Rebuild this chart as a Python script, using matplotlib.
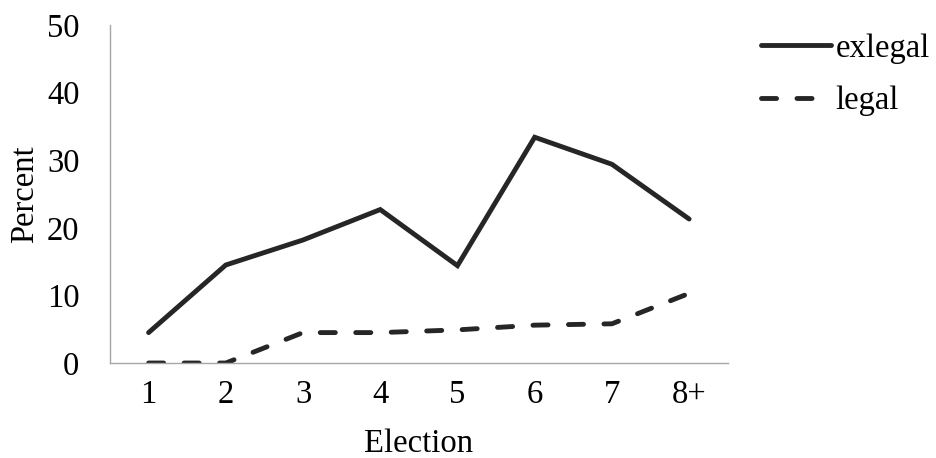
import matplotlib
matplotlib.use("Agg")
import matplotlib.pyplot as plt

plt.rcParams['font.family'] = ['Liberation Serif', 'DejaVu Serif']

elections = ['1', '2', '3', '4', '5', '6', '7', '8+']
exlegal = [4.5, 14.5, 18.2, 22.7, 14.4, 33.4, 29.4, 21.3]
legal = [0.0, 0.0, 4.5, 4.5, 4.9, 5.6, 5.8, 10.3]

fs = 23.5

fig = plt.figure(figsize=(9.36, 4.58), dpi=100)
ax = fig.add_axes([0.1175, 0.2074, 0.66, 0.738])

x = range(len(elections))
ax.plot(x, exlegal, color='#262626', lw=3.5, solid_capstyle='round', solid_joinstyle='miter', label='exlegal')
ax.plot(x, legal, color='#262626', lw=3.5, dashes=(3.1, 4.2), dash_capstyle='round', label='legal')

ax.set_xlim(-0.5, len(elections) - 0.5)
ax.set_ylim(0, 50)
ax.set_yticks([0, 10, 20, 30, 40, 50])
ax.set_xticks(list(x))
ax.set_xticklabels(elections)
ax.tick_params(length=0, labelsize=fs, colors='black')
ax.tick_params(axis='x', pad=12)
ax.tick_params(axis='y', pad=22)

for s in ['top', 'right']:
    ax.spines[s].set_visible(False)
for s in ['left', 'bottom']:
    ax.spines[s].set_color('#a6a6a6')
    ax.spines[s].set_linewidth(1)

ax.set_xlabel('Election', fontsize=fs, labelpad=13)
ax.set_ylabel('Percent', fontsize=fs, labelpad=5)

ax.legend(loc='upper left', bbox_to_anchor=(1.04, 1.0), frameon=False, fontsize=fs,
          handlelength=2.15, handletextpad=0.15, labelspacing=0.68, borderaxespad=0.0,
          borderpad=0.25)

fig.savefig('out.png', dpi=100)
